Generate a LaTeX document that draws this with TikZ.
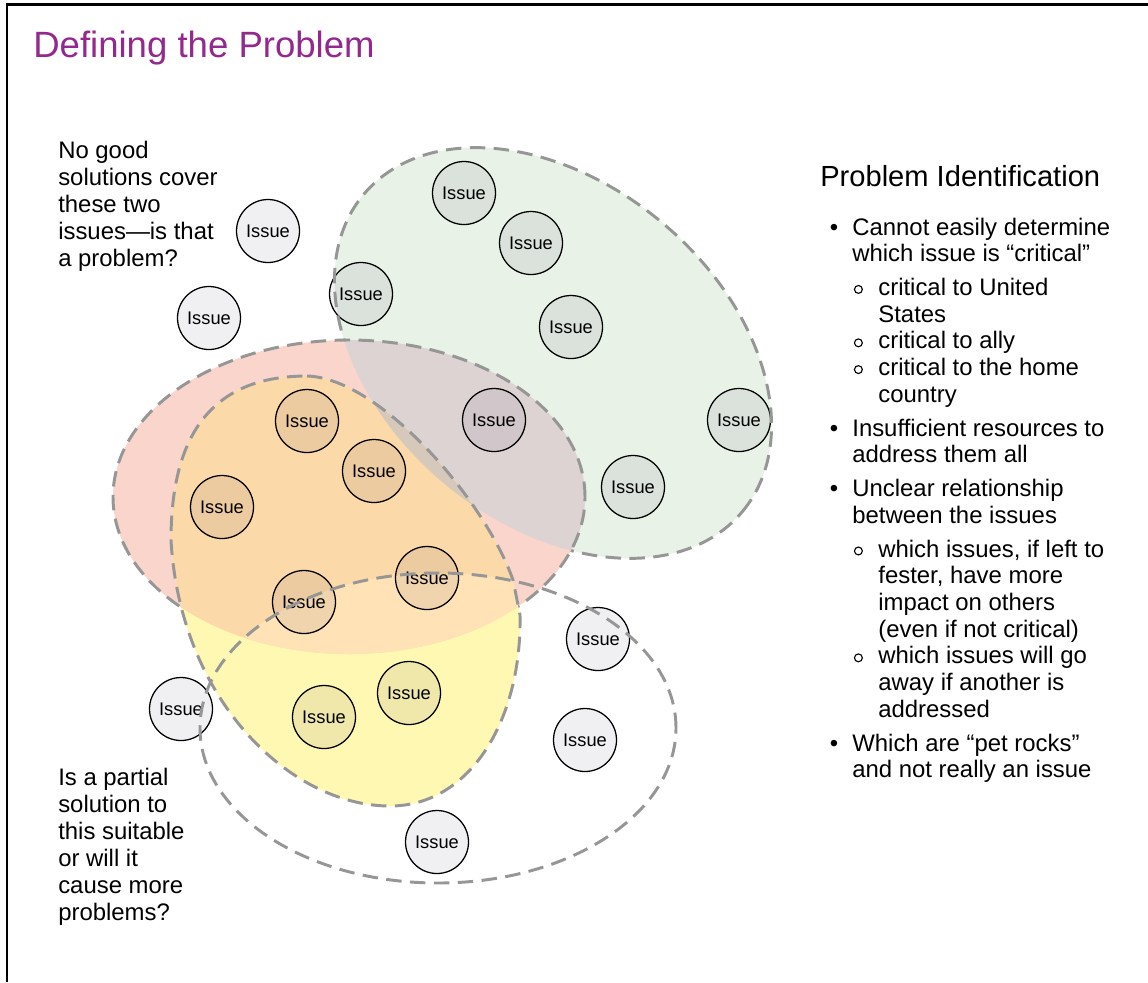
\documentclass[tikz,border=0pt]{standalone}
\usepackage{fontspec}
\setmainfont{Liberation Sans}
\usepackage{tikz}
\definecolor{titlepurple}{RGB}{147,40,141}
\definecolor{grn}{RGB}{232,242,230}
\definecolor{pnk}{RGB}{249,213,203}
\definecolor{mauve}{RGB}{221,211,211}
\definecolor{ylw}{RGB}{255,248,178}
\definecolor{orng}{RGB}{252,217,168}
\definecolor{lorng}{RGB}{255,226,181}
\definecolor{taupe}{RGB}{214,201,187}
\definecolor{dashgray}{RGB}{150,150,150}
\definecolor{shade}{RGB}{70,50,90}
\tikzstyle{issue} = [circle, draw=black, line width=0.9pt, fill=shade, fill opacity=0.08, text opacity=1, minimum size=44.8pt, inner sep=0pt, font=\fontsize{13}{15}\selectfont]
\tikzstyle{region} = [draw=dashgray, line width=2.1pt, dash pattern=on 11pt off 6pt]
\tikzstyle{note} = [align=left, anchor=north west, inner sep=0pt, font=\fontsize{17}{19.2}\selectfont]
\def\greenpath{(553,-353) ellipse [x radius=247, y radius=170, rotate=-40]}
\def\pinkpath{(349,-497) ellipse [x radius=236, y radius=157]}
\def\bottompath{(438,-728) ellipse [x radius=238, y radius=155]}
\def\yellowpath{(307,-376) .. controls (380,-378) and (485,-500) .. (513,-580) -- (520,-615) .. controls (522,-720) and (470,-806) .. (390,-806) .. controls (290,-806) and (180,-700) .. (171,-540) .. controls (171,-425) and (220,-376) .. cycle}
\newcommand{\hollow}{\tikz[baseline=-4.3pt]\draw[line width=0.8pt] (0,0) circle (2.8pt);}
\begin{document}
\begin{tikzpicture}[x=0.025cm, y=0.025cm]
  \useasboundingbox (0,0) rectangle (1148,-982);
  \draw[line width=1.9pt] (7,-982) -- (7,-4.5) -- (1148,-4.5);
  \node[anchor=base west, inner sep=0pt, text=titlepurple, font=\fontsize{26}{30}\selectfont] (title) at (33,-57) {Defining the Problem};

  % coloured areas
  \fill[grn] \greenpath;
  \fill[pnk] \pinkpath;
  \begin{scope}
    \clip \greenpath;
    \fill[mauve] \pinkpath;
  \end{scope}
  \fill[ylw] \yellowpath;
  \begin{scope}
    \clip \pinkpath;
    \fill[orng] \yellowpath;
    \begin{scope}
      \clip \bottompath;
      \fill[lorng] \yellowpath;
    \end{scope}
    \begin{scope}
      \clip \greenpath;
      \fill[taupe] \yellowpath;
    \end{scope}
  \end{scope}

  % issues
  \node[issue] (g1) at (464,-193) {Issue};
  \node[issue] (g2) at (531,-243) {Issue};
  \node[issue] (g3) at (361,-294) {Issue};
  \node[issue] (g4) at (571,-327) {Issue};
  \node[issue] (g5) at (739,-420) {Issue};
  \node[issue] (g6) at (633,-487) {Issue};
  \node[issue] (w1) at (268,-231) {Issue};
  \node[issue] (w2) at (209,-318) {Issue};
  \node[issue] (p1) at (307,-421) {Issue};
  \node[issue] (p2) at (374,-471) {Issue};
  \node[issue] (p3) at (222,-507) {Issue};
  \node[issue] (pg) at (494,-420) {Issue};
  \node[issue] (p4) at (427,-578) {Issue};
  \node[issue] (p5) at (304,-602) {Issue};
  \node[issue] (y1) at (409,-693) {Issue};
  \node[issue] (y2) at (324,-717) {Issue};
  \node[issue] (w3) at (598,-639) {Issue};
  \node[issue] (w4) at (181,-709) {Issue};
  \node[issue] (w5) at (585,-740) {Issue};
  \node[issue] (w6) at (437,-842) {Issue};

  % dashed outlines
  \begin{scope}[even odd rule]
    \clip (0,0) rectangle (1148,-982) \pinkpath;
    \draw[region] \greenpath;
  \end{scope}
  \begin{scope}[even odd rule]
    \clip (0,0) rectangle (1148,-982) \yellowpath;
    \draw[region] \pinkpath;
  \end{scope}
  \draw[region] \yellowpath;
  \draw[region] \bottompath;

  % texts
  \node[note] (q1) at (58,-141) {No good\\solutions cover\\these two\\issues—is that\\a problem?};
  \node[note] (q2) at (58,-768) {Is a partial\\solution to\\this suitable\\or will it\\cause more\\problems?};
  \node[anchor=base west, inner sep=0pt, font=\fontsize{20.7}{24}\selectfont] (pid) at (820,-186) {Problem Identification};
  \node[note, align=none, text width=9cm, font=\fontsize{17}{19}\selectfont] (items) at (820,-208) {%
    \begin{list}{\textbullet}{\setlength{\leftmargin}{22.8pt}\setlength{\labelsep}{10pt}\setlength{\labelwidth}{12.8pt}\setlength{\itemsep}{5pt}\setlength{\parsep}{0pt}\setlength{\topsep}{0pt}\setlength{\partopsep}{0pt}}
    \item Cannot easily determine\\which issue is “critical”
      \begin{list}{\hollow}{\setlength{\leftmargin}{18.5pt}\setlength{\labelsep}{11pt}\setlength{\labelwidth}{7.5pt}\setlength{\itemsep}{0pt}\setlength{\parsep}{0pt}\setlength{\topsep}{5pt}\setlength{\partopsep}{0pt}}
      \item critical to United\\States
      \item critical to ally
      \item critical to the home\\country
      \end{list}
    \item Insufficient resources to\\address them all
    \item Unclear relationship\\between the issues
      \begin{list}{\hollow}{\setlength{\leftmargin}{18.5pt}\setlength{\labelsep}{11pt}\setlength{\labelwidth}{7.5pt}\setlength{\itemsep}{0pt}\setlength{\parsep}{0pt}\setlength{\topsep}{5pt}\setlength{\partopsep}{0pt}}
      \item which issues, if left to\\fester, have more\\impact on others\\(even if not critical)
      \item which issues will go\\away if another is\\addressed
      \end{list}
    \item Which are “pet rocks”\\and not really an issue
    \end{list}};
\end{tikzpicture}
\end{document}
